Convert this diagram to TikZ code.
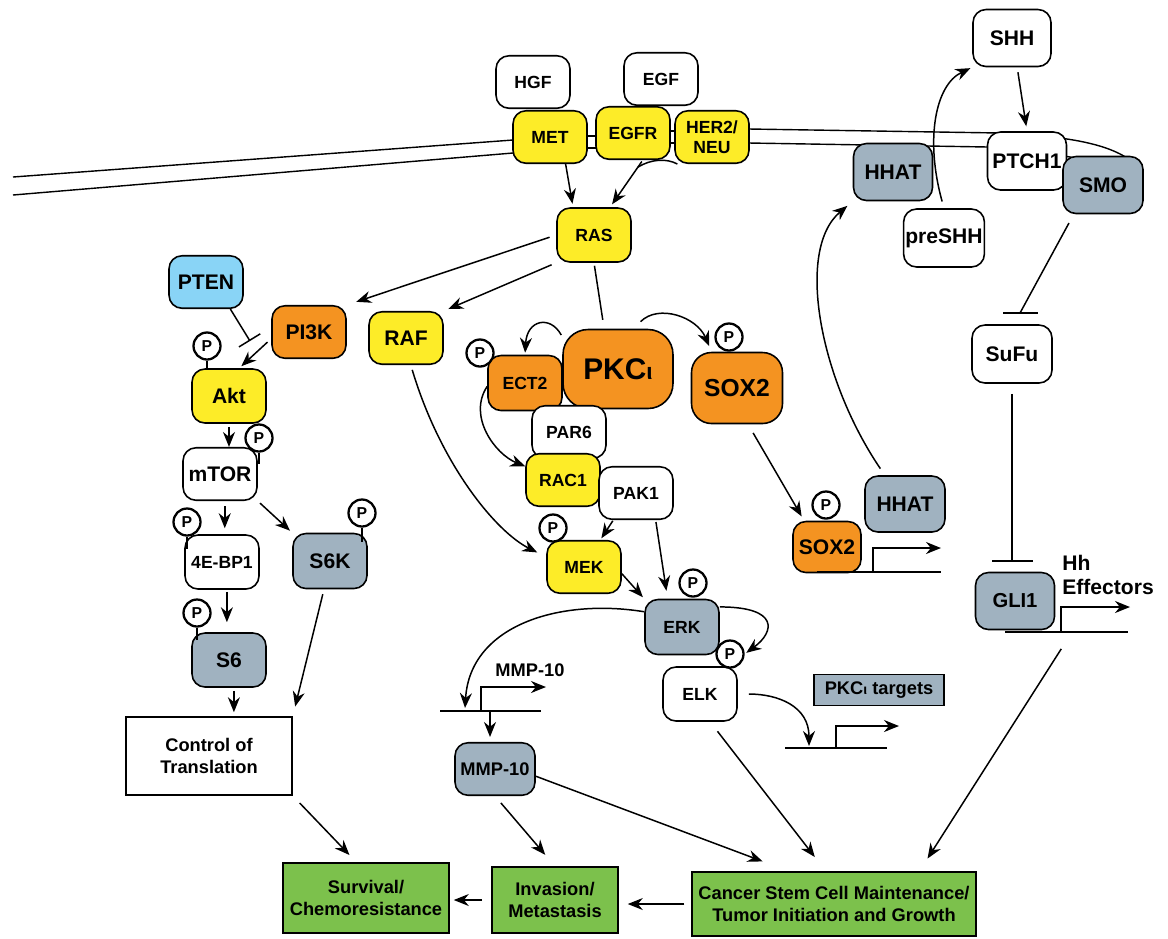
\documentclass[tikz,border=0pt]{standalone}
\usepackage{fontspec}
\setmainfont{Liberation Sans}
\usepackage{xcolor}
\usepackage{tikz}
\usetikzlibrary{arrows.meta, calc}

\definecolor{kyellow}{RGB}{253,236,40}
\definecolor{korange}{RGB}{244,147,33}
\definecolor{kgrey}{RGB}{160,178,192}
\definecolor{kblue}{RGB}{137,212,246}
\definecolor{kgreen}{RGB}{124,193,76}

\begin{document}
\begin{tikzpicture}[
  x=0.02cm, y=-0.02cm,
  box/.style={draw, line width=0.9pt, rounded corners=0.26cm, minimum width=1.48cm,
    minimum height=1.05cm, inner sep=1pt, align=center,
    font=\fontsize{10}{11.5}\selectfont\bfseries},
  bigtext/.style={font=\fontsize{12}{14}\selectfont\bfseries},
  whitebox/.style={box, fill=white},
  yellowbox/.style={box, fill=kyellow},
  orangebox/.style={box, fill=korange},
  greybox/.style={box, fill=kgrey},
  bluebox/.style={box, fill=kblue},
  greenbox/.style={box, fill=kgreen, sharp corners,
    font=\fontsize{10.4}{12.3}\selectfont\bfseries},
  arrow/.style={-{Stealth[length=3mm, width=2.4mm]}, line width=0.85pt},
  inhib/.style={-{Bar[width=#1]}, line width=0.85pt},
  phos/.style={circle, draw, line width=1.3pt, fill=white, inner sep=0pt,
    minimum size=0.54cm, font=\fontsize{9}{9}\selectfont\bfseries},
  stem/.style={line width=1.3pt},
  membrane/.style={line width=0.8pt},
  gene/.style={line width=0.85pt},
]
  \useasboundingbox (0,0) rectangle (1168,938);

  % membrane
  \draw[membrane] (13,177) -- (513,140);
  \draw[membrane] (13,195) -- (513,153);
  \draw[membrane] (587,136) -- (596,136);
  \draw[membrane] (587,148) -- (596,148);
  \draw[membrane] (670,131) -- (675,131);
  \draw[membrane] (670,143) -- (675,143);
  \draw[membrane] (749,129) -- (1000,133) .. controls (1060,136) and (1105,142) .. (1130,160);
  \draw[membrane] (749,143) -- (988,147) .. controls (1030,150) and (1055,154) .. (1075,158);

  \node (hgf)  [whitebox]  at (533,82)  {HGF};
  \node (egf)  [whitebox]  at (661,79)  {EGF};
  \node (met)  [yellowbox] at (550,137) {MET};
  \node (egfr) [yellowbox] at (633,133) {EGFR};
  \node (her)  [yellowbox] at (712,137) {HER2/\\NEU};
  \node (ras)  [yellowbox, minimum height=1.08cm] at (594,235) {RAS};

  \node (shh)    [whitebox, bigtext, minimum width=1.56cm, minimum height=1.14cm] at (1012,38) {SHH};
  \node (ptch)   [whitebox, bigtext, minimum width=1.58cm, minimum height=1.16cm] at (1027,161) {PTCH1};
  \node (smo)    [greybox, bigtext, minimum width=1.6cm, minimum height=1.14cm] at (1103,185) {SMO};
  \node (hhat1)  [greybox, bigtext, minimum width=1.58cm, minimum height=1.14cm] at (893,172) {HHAT};
  \node (preshh) [whitebox, bigtext, minimum width=1.6cm, minimum height=1.16cm] at (944,238) {preSHH};

  \node (pten) [bluebox, bigtext]   at (206,282) {PTEN};
  \node (pi3k) [orangebox, bigtext] at (309,332) {PI3K};
  \node (raf)  [yellowbox, bigtext] at (406,338) {RAF};
  \node (akt)  [yellowbox, bigtext, minimum height=1.08cm] at (229,396) {Akt};
  \node (mtor) [whitebox, bigtext]  at (220,474) {mTOR};
  \node (ebp)  [whitebox, minimum height=1.08cm] at (222,562) {4E-BP1};
  \node (s6k)  [greybox, bigtext, minimum height=1.1cm]  at (330,561) {S6K};
  \node (s6)   [greybox, bigtext, minimum height=1.08cm]  at (229,660) {S6};
  \node (ctrl) [box, sharp corners, minimum width=3.32cm, minimum height=1.56cm,
    font=\fontsize{10.4}{12.3}\selectfont\bfseries] at (209,756) {Control of\\Translation};

  \node (ect2)  [orangebox, minimum height=1.1cm] at (525,383) {ECT2};
  \node (pkc)   [orangebox, rounded corners=0.5cm, minimum width=2.2cm, minimum height=1.58cm,
    font=\fontsize{17}{17}\selectfont\bfseries] at (618,369) {PKC{\fontsize{13}{13}\selectfont ι}};
  \node (sox2a) [orangebox, rounded corners=0.4cm, minimum width=1.82cm, minimum height=1.42cm,
    font=\fontsize{14}{14}\selectfont\bfseries] at (737,388) {SOX2};
  \node (par6)  [whitebox]  at (569,432) {PAR6};
  \node (rac1)  [yellowbox] at (563,480) {RAC1};
  \node (pak1)  [whitebox]  at (636,493) {PAK1};
  \node (mek)   [yellowbox] at (584,567) {MEK};
  \node (erk)   [greybox, minimum height=1.1cm]  at (682,627) {ERK};
  \node (elk)   [whitebox, minimum height=1.08cm] at (700,694) {ELK};
  \node (sox2b) [orangebox, bigtext, minimum width=1.36cm, minimum height=1.02cm] at (827,547) {SOX2};
  \node (hhat2) [greybox, bigtext, minimum width=1.6cm, minimum height=1.12cm] at (905,504) {HHAT};
  \node (sufu)  [whitebox, bigtext, minimum width=1.6cm, minimum height=1.16cm] at (1012,354) {SuFu};
  \node (gli1)  [greybox, minimum width=1.58cm, minimum height=1.14cm,
    font=\fontsize{11.5}{11.5}\selectfont\bfseries] at (1015,601) {GLI1};
  \node (tgt)   [greybox, sharp corners, minimum width=2.6cm, minimum height=0.62cm,
    font=\fontsize{10.4}{10.4}\selectfont\bfseries] at (879,690) {PKC{\fontsize{8}{8}\selectfont ι} targets};
  \node (mmp)   [greybox, font=\fontsize{10.4}{10.4}\selectfont\bfseries, minimum width=1.6cm] at (495,769) {MMP-10};

  \node (surv) [greenbox, minimum width=3.32cm, minimum height=1.4cm]  at (366,898) {Survival/\\Chemoresistance};
  \node (inv)  [greenbox, minimum width=2.52cm, minimum height=1.32cm] at (555,900) {Invasion/\\Metastasis};
  \node (csc)  [greenbox, minimum width=5.68cm, minimum height=1.28cm] at (834,904)
    {Cancer Stem Cell Maintenance/\\Tumor Initiation and Growth};

  \node (mmplbl) [font=\fontsize{10.4}{10.4}\selectfont\bfseries] at (530,670) {MMP-10};
  \node (hhlbl)  [anchor=west, align=left, inner sep=0pt,
    font=\fontsize{12}{14}\selectfont\bfseries] at (1062,575) {Hh\\Effectors};

  % phosphorylation marks
  \node (aktp)   [phos] at (207,346) {P};
  \draw[stem] (aktp.south) -- (aktp.south |- akt.north);
  \node (mtorp)  [phos] at (259,438) {P};
  \draw[stem] (mtorp.south) -- ++(0,11);
  \node (ebpp)   [phos] at (187,522) {P};
  \draw[stem] (ebpp.south) -- ++(0,12);
  \node (s6kp)   [phos] at (362,513) {P};
  \draw[stem] (s6kp.south) -- ++(0,14);
  \node (s6p)    [phos] at (197,613) {P};
  \draw[stem] (s6p.south) -- ++(0,12);
  \node (ect2p)  [phos] at (480,353) {P};
  \node (sox2ap) [phos] at (729,337) {P};
  \node (mekp)   [phos] at (553,528) {P};
  \node (erkp)   [phos] at (693,583) {P};
  \node (elkp)   [phos] at (730,654) {P};
  \node (sox2bp) [phos] at (826,505) {P};

  % genes
  \draw[gene] (817,572) -- (941,572);
  \draw[arrow] (873,572) |- (941,548);
  \draw[gene] (1005,632) -- (1128,632);
  \draw[arrow] (1061,632) |- (1130,607);
  \draw[gene] (785,748) -- (887,748);
  \draw[arrow] (836,748) |- (899,726);
  \draw[gene] (440,711) -- (541,711);
  \draw[arrow] (481,711) |- (546,687);
  \coordinate (mmpg) at (490,711);
  \coordinate (mmpsite) at (465,708);
  \coordinate (tgtsite) at (809,746);
  \coordinate (gligene) at (1072,632);

  % receptors
  \draw[arrow, shorten >=2pt] (met.-60) -- (ras.127);
  \draw[arrow, shorten <=1pt, shorten >=2pt] (egfr.-70) -- (ras.60);
  \coordinate (egfrj) at ($(egfr.-70)!0.15!(ras.60)$);
  \draw[line width=0.85pt] (her.-142) .. controls +(-11,-6) and +(13,-8) .. (egfrj);
  \draw[arrow, shorten <=0.14cm, shorten >=0.2cm] (ras.west) -- (pi3k.north east);
  \draw[arrow, shorten <=0.1cm, shorten >=0.1cm] (ras.south west) -- (raf.north east);
  \draw[line width=0.85pt, shorten <=0.06cm, shorten >=0.18cm] (ras.south) -- (pkc.109);

  % PI3K / mTOR branch
  \coordinate (ptenbar) at (250,341);
  \draw[inhib=0.5cm] (pten.-48) -- (ptenbar);
  \draw[arrow, shorten <=0.1cm, shorten >=0.06cm] (pi3k.190) -- (akt.70);
  \draw[arrow, shorten <=0.06cm] (akt.south) -- (akt.south |- mtor.north);
  \draw[arrow, shorten <=0.1cm, shorten >=0.12cm] (mtor.-80) -- (mtor.-80 |- ebp.north);
  \draw[arrow, shorten <=0.06cm, shorten >=0.06cm] (mtor.south east) -- (s6k.north west);
  \draw[arrow, shorten <=0.04cm, shorten >=0.2cm] (ebp.-80) -- (ebp.-80 |- s6.north);
  \draw[arrow, shorten <=0.06cm, shorten >=0.08cm] (s6.-80) -- (s6.-80 |- ctrl.north);
  \draw[arrow, shorten <=0.1cm, shorten >=0.2cm] (s6k.-102) -- (ctrl.north east);

  % PKC branch
  \draw[arrow, shorten <=0.1cm, shorten >=0.2cm] (raf.-80) .. controls +(30,100) and +(-50,-25) .. (mek.165);
  \draw[arrow] (ect2.185) .. controls +(-20,30) and +(-30,-12) .. (rac1.160);
  \draw[arrow, shorten <=0.04cm, shorten >=0.04cm] (pkc.150) .. controls +(-12,-22) and +(2,-35) .. (ect2.north);
  \draw[arrow, shorten <=0.2cm, shorten >=0.12cm] (pkc.69) .. controls +(25,-25) and +(-15,-35) .. (sox2a.125);
  \draw[arrow, shorten <=0.02cm, shorten >=0.04cm] (pak1.-130) -- (mek.59);
  \draw[arrow, shorten <=0.04cm, shorten >=0.16cm] (pak1.-54) -- (erk.117);
  \draw[arrow, shorten >=0.04cm] (mek.-10) -- (erk.north west);
  \draw[arrow, shorten >=0.04cm] (erk.28) .. controls +(60,0) and +(30,-22) .. (elkp.east);
  \draw[arrow] (erk.158) .. controls (560,598) and (470,625) .. (mmpsite);
  \draw[arrow, shorten >=0.1cm] (mmpg) -- (mmpg |- mmp.north);
  \draw[arrow, shorten <=0.22cm] (elk.east) .. controls +(40,0) and +(0,-40) .. (tgtsite);
  \draw[arrow, shorten <=0.2cm, shorten >=0.1cm] (sox2a.-73) -- (sox2b.131);

  % hedgehog branch
  \draw[arrow, shorten <=0.16cm, shorten >=0.14cm] (hhat2.125) .. controls (820,380) and (795,250) .. (hhat1.south west);
  \draw[arrow, shorten <=0.14cm, shorten >=0.04cm] (preshh.north) .. controls (925,140) and (935,85) .. (shh.south west);
  \draw[arrow, shorten <=0.1cm, shorten >=0.1cm] (shh.-80) -- (ptch.north);
  \coordinate (sufubar) at (1020,313);
  \draw[line width=0.85pt, shorten <=0.2cm] (smo.-135) -- (sufubar);
  \draw[line width=0.9pt] ($(sufubar)+(-17,0)$) -- ($(sufubar)+(18,0)$);
  \draw[inhib=0.82cm, shorten <=0.2cm, shorten >=0.2cm] (sufu.south) -- (sufu.south |- gli1.north);

  % outcomes
  \draw[arrow, shorten <=0.2cm, shorten >=0.2cm] (ctrl.south east) -- (surv.105);
  \draw[arrow, shorten <=0.18cm, shorten >=0.08cm] (inv.west) -- (inv.west -| surv.east);
  \draw[arrow, shorten <=0.14cm, shorten >=0.18cm] (csc.west) -- (csc.west -| inv.east);
  \draw[arrow, shorten <=0.18cm, shorten >=0.3cm] (mmp.south) -- (inv.north);
  \draw[arrow, shorten >=0.56cm] (mmp.-10) -- (csc.144);
  \draw[arrow, shorten <=0.24cm, shorten >=0.36cm] (elk.-70) -- (csc.104);
  \draw[arrow, shorten <=0.4cm, shorten >=0.3cm] (gligene) -- (csc.21);
\end{tikzpicture}
\end{document}
